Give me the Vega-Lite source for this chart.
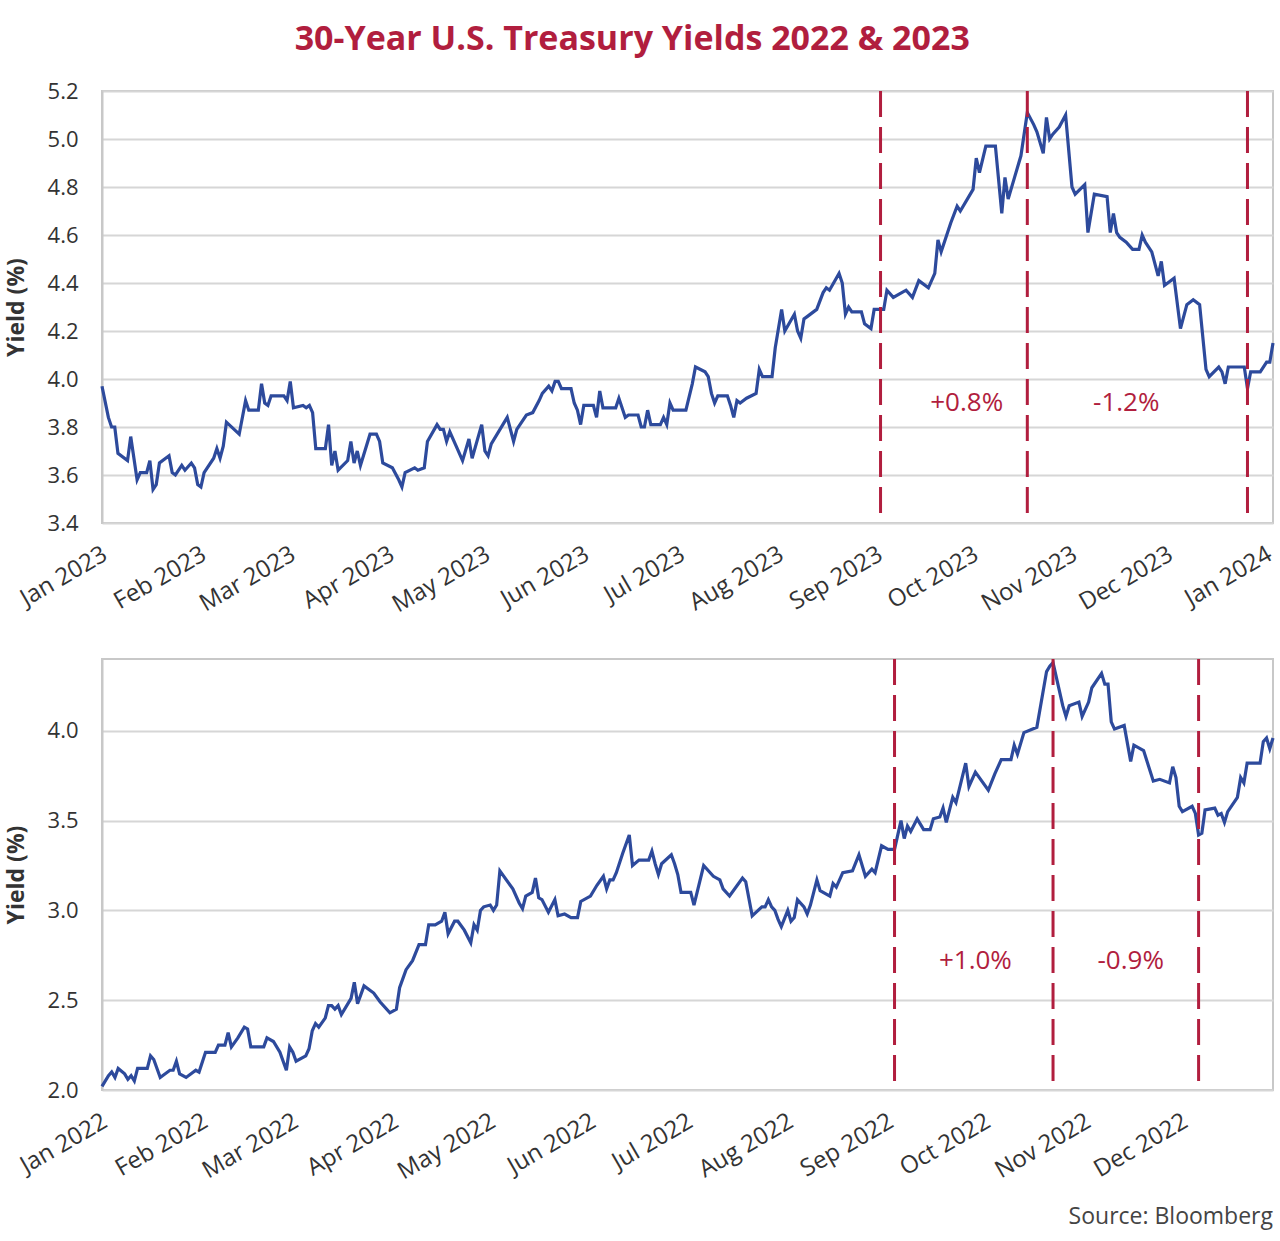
{
  "$schema": "https://vega.github.io/schema/vega-lite/v6.json",
  "padding": {"top": 23, "left": 4, "right": 3, "bottom": 10},
  "background": "white",
  "title": {
    "text": "30-Year U.S. Treasury Yields 2022 & 2023",
    "font": "Open Sans", "fontSize": 34, "fontWeight": "bold", "color": "#B11E3E",
    "anchor": "middle", "frame": "bounds", "offset": 22, "dx": -10
  },
  "config": {
    "font": "Open Sans",
    "view": {"stroke": "#c8c8c8", "strokeWidth": 2},
    "axisY": {
      "grid": true, "gridColor": "#d6d6d6", "gridWidth": 2,
      "domain": true, "domainColor": "#c8c8c8", "domainWidth": 2,
      "ticks": false, "labelFontSize": 22, "labelColor": "#333333", "labelPadding": 24,
      "labelFont": "Open Sans",
      "titleFont": "Open Sans", "titleFontSize": 23, "titleFontWeight": "bold", "titleColor": "#333333",
      "titlePadding": 19, "format": ".1f"
    },
    "axisX": {
      "grid": false, "domain": false, "ticks": false,
      "labelFontSize": 24, "labelColor": "#333333", "labelFont": "Open Sans",
      "labelAngle": -30, "labelAlign": "right", "labelBaseline": "top", "labelPadding": 19, "labelOffset": -3,
      "format": "%b %Y", "labelOverlap": false, "labelFlush": false, "labelBound": false
    }
  },
  "datasets": {
    "y2023": [
      {"date": "2023-01-01", "yield": 3.97}, {"date": "2023-01-03", "yield": 3.84}, {"date": "2023-01-04", "yield": 3.80},
      {"date": "2023-01-05", "yield": 3.80}, {"date": "2023-01-06", "yield": 3.69}, {"date": "2023-01-09", "yield": 3.66},
      {"date": "2023-01-10", "yield": 3.76}, {"date": "2023-01-12", "yield": 3.58}, {"date": "2023-01-13", "yield": 3.61},
      {"date": "2023-01-15", "yield": 3.61}, {"date": "2023-01-16", "yield": 3.66}, {"date": "2023-01-17", "yield": 3.54},
      {"date": "2023-01-18", "yield": 3.56}, {"date": "2023-01-19", "yield": 3.65}, {"date": "2023-01-22", "yield": 3.68},
      {"date": "2023-01-23", "yield": 3.61}, {"date": "2023-01-24", "yield": 3.60}, {"date": "2023-01-26", "yield": 3.64},
      {"date": "2023-01-27", "yield": 3.62}, {"date": "2023-01-29", "yield": 3.65}, {"date": "2023-01-30", "yield": 3.63},
      {"date": "2023-01-31", "yield": 3.56}, {"date": "2023-02-01", "yield": 3.55}, {"date": "2023-02-02", "yield": 3.61},
      {"date": "2023-02-05", "yield": 3.67}, {"date": "2023-02-06", "yield": 3.71}, {"date": "2023-02-07", "yield": 3.67},
      {"date": "2023-02-08", "yield": 3.72}, {"date": "2023-02-09", "yield": 3.82}, {"date": "2023-02-13", "yield": 3.77},
      {"date": "2023-02-15", "yield": 3.91}, {"date": "2023-02-16", "yield": 3.87}, {"date": "2023-02-19", "yield": 3.87},
      {"date": "2023-02-20", "yield": 3.98}, {"date": "2023-02-21", "yield": 3.90}, {"date": "2023-02-22", "yield": 3.89},
      {"date": "2023-02-23", "yield": 3.93}, {"date": "2023-02-27", "yield": 3.93}, {"date": "2023-02-28", "yield": 3.91},
      {"date": "2023-03-01", "yield": 3.99}, {"date": "2023-03-02", "yield": 3.88}, {"date": "2023-03-05", "yield": 3.89},
      {"date": "2023-03-06", "yield": 3.88}, {"date": "2023-03-07", "yield": 3.89}, {"date": "2023-03-08", "yield": 3.86},
      {"date": "2023-03-09", "yield": 3.71}, {"date": "2023-03-12", "yield": 3.71}, {"date": "2023-03-13", "yield": 3.81},
      {"date": "2023-03-14", "yield": 3.64}, {"date": "2023-03-15", "yield": 3.70}, {"date": "2023-03-16", "yield": 3.62},
      {"date": "2023-03-19", "yield": 3.66}, {"date": "2023-03-20", "yield": 3.74}, {"date": "2023-03-21", "yield": 3.65},
      {"date": "2023-03-22", "yield": 3.70}, {"date": "2023-03-23", "yield": 3.64}, {"date": "2023-03-26", "yield": 3.77},
      {"date": "2023-03-28", "yield": 3.77}, {"date": "2023-03-29", "yield": 3.74}, {"date": "2023-03-30", "yield": 3.65},
      {"date": "2023-04-02", "yield": 3.63}, {"date": "2023-04-04", "yield": 3.58}, {"date": "2023-04-05", "yield": 3.55},
      {"date": "2023-04-06", "yield": 3.61}, {"date": "2023-04-09", "yield": 3.63}, {"date": "2023-04-10", "yield": 3.62},
      {"date": "2023-04-12", "yield": 3.63}, {"date": "2023-04-13", "yield": 3.74}, {"date": "2023-04-16", "yield": 3.81},
      {"date": "2023-04-17", "yield": 3.79}, {"date": "2023-04-18", "yield": 3.79}, {"date": "2023-04-19", "yield": 3.74},
      {"date": "2023-04-20", "yield": 3.78}, {"date": "2023-04-22", "yield": 3.72}, {"date": "2023-04-24", "yield": 3.66},
      {"date": "2023-04-26", "yield": 3.75}, {"date": "2023-04-27", "yield": 3.67}, {"date": "2023-04-30", "yield": 3.81},
      {"date": "2023-05-01", "yield": 3.70}, {"date": "2023-05-02", "yield": 3.68}, {"date": "2023-05-03", "yield": 3.73},
      {"date": "2023-05-08", "yield": 3.84}, {"date": "2023-05-10", "yield": 3.74}, {"date": "2023-05-11", "yield": 3.79},
      {"date": "2023-05-14", "yield": 3.85}, {"date": "2023-05-16", "yield": 3.86}, {"date": "2023-05-18", "yield": 3.91},
      {"date": "2023-05-19", "yield": 3.94}, {"date": "2023-05-21", "yield": 3.97}, {"date": "2023-05-22", "yield": 3.95},
      {"date": "2023-05-23", "yield": 3.99}, {"date": "2023-05-24", "yield": 3.99}, {"date": "2023-05-25", "yield": 3.96},
      {"date": "2023-05-28", "yield": 3.96}, {"date": "2023-05-29", "yield": 3.90}, {"date": "2023-05-30", "yield": 3.87},
      {"date": "2023-05-31", "yield": 3.81}, {"date": "2023-06-01", "yield": 3.89}, {"date": "2023-06-04", "yield": 3.89},
      {"date": "2023-06-05", "yield": 3.84}, {"date": "2023-06-06", "yield": 3.95}, {"date": "2023-06-07", "yield": 3.88},
      {"date": "2023-06-09", "yield": 3.88}, {"date": "2023-06-11", "yield": 3.88}, {"date": "2023-06-12", "yield": 3.92},
      {"date": "2023-06-14", "yield": 3.84}, {"date": "2023-06-15", "yield": 3.85}, {"date": "2023-06-18", "yield": 3.85},
      {"date": "2023-06-19", "yield": 3.80}, {"date": "2023-06-20", "yield": 3.80}, {"date": "2023-06-21", "yield": 3.87},
      {"date": "2023-06-22", "yield": 3.81}, {"date": "2023-06-25", "yield": 3.81}, {"date": "2023-06-26", "yield": 3.84},
      {"date": "2023-06-27", "yield": 3.81}, {"date": "2023-06-28", "yield": 3.90}, {"date": "2023-06-29", "yield": 3.87},
      {"date": "2023-07-03", "yield": 3.87}, {"date": "2023-07-05", "yield": 3.98}, {"date": "2023-07-06", "yield": 4.05},
      {"date": "2023-07-09", "yield": 4.03}, {"date": "2023-07-10", "yield": 4.01}, {"date": "2023-07-11", "yield": 3.94},
      {"date": "2023-07-12", "yield": 3.90}, {"date": "2023-07-13", "yield": 3.93}, {"date": "2023-07-16", "yield": 3.93},
      {"date": "2023-07-17", "yield": 3.89}, {"date": "2023-07-18", "yield": 3.84}, {"date": "2023-07-19", "yield": 3.91},
      {"date": "2023-07-20", "yield": 3.90}, {"date": "2023-07-22", "yield": 3.92}, {"date": "2023-07-25", "yield": 3.94},
      {"date": "2023-07-26", "yield": 4.04}, {"date": "2023-07-27", "yield": 4.01}, {"date": "2023-07-30", "yield": 4.01},
      {"date": "2023-07-31", "yield": 4.13}, {"date": "2023-08-02", "yield": 4.29}, {"date": "2023-08-03", "yield": 4.20},
      {"date": "2023-08-06", "yield": 4.27}, {"date": "2023-08-07", "yield": 4.20}, {"date": "2023-08-08", "yield": 4.17},
      {"date": "2023-08-09", "yield": 4.25}, {"date": "2023-08-10", "yield": 4.26}, {"date": "2023-08-13", "yield": 4.29},
      {"date": "2023-08-15", "yield": 4.36}, {"date": "2023-08-16", "yield": 4.38}, {"date": "2023-08-17", "yield": 4.37},
      {"date": "2023-08-20", "yield": 4.44}, {"date": "2023-08-21", "yield": 4.40}, {"date": "2023-08-22", "yield": 4.27},
      {"date": "2023-08-23", "yield": 4.30}, {"date": "2023-08-24", "yield": 4.28}, {"date": "2023-08-27", "yield": 4.28},
      {"date": "2023-08-28", "yield": 4.23}, {"date": "2023-08-30", "yield": 4.21}, {"date": "2023-08-31", "yield": 4.29},
      {"date": "2023-09-03", "yield": 4.29}, {"date": "2023-09-04", "yield": 4.37}, {"date": "2023-09-06", "yield": 4.34},
      {"date": "2023-09-10", "yield": 4.37}, {"date": "2023-09-12", "yield": 4.34}, {"date": "2023-09-14", "yield": 4.41},
      {"date": "2023-09-17", "yield": 4.38}, {"date": "2023-09-19", "yield": 4.44}, {"date": "2023-09-20", "yield": 4.58},
      {"date": "2023-09-21", "yield": 4.53}, {"date": "2023-09-24", "yield": 4.65}, {"date": "2023-09-26", "yield": 4.72},
      {"date": "2023-09-27", "yield": 4.70}, {"date": "2023-10-01", "yield": 4.79}, {"date": "2023-10-02", "yield": 4.92},
      {"date": "2023-10-03", "yield": 4.86}, {"date": "2023-10-05", "yield": 4.97}, {"date": "2023-10-08", "yield": 4.97},
      {"date": "2023-10-10", "yield": 4.69}, {"date": "2023-10-11", "yield": 4.84}, {"date": "2023-10-12", "yield": 4.75},
      {"date": "2023-10-14", "yield": 4.84}, {"date": "2023-10-16", "yield": 4.93}, {"date": "2023-10-18", "yield": 5.11},
      {"date": "2023-10-20", "yield": 5.06}, {"date": "2023-10-21", "yield": 5.03}, {"date": "2023-10-23", "yield": 4.94},
      {"date": "2023-10-24", "yield": 5.09}, {"date": "2023-10-25", "yield": 5.00}, {"date": "2023-10-26", "yield": 5.02},
      {"date": "2023-10-28", "yield": 5.05}, {"date": "2023-10-30", "yield": 5.10}, {"date": "2023-11-01", "yield": 4.80},
      {"date": "2023-11-02", "yield": 4.77}, {"date": "2023-11-05", "yield": 4.81}, {"date": "2023-11-06", "yield": 4.61},
      {"date": "2023-11-08", "yield": 4.77}, {"date": "2023-11-12", "yield": 4.76}, {"date": "2023-11-13", "yield": 4.61},
      {"date": "2023-11-14", "yield": 4.69}, {"date": "2023-11-15", "yield": 4.61}, {"date": "2023-11-16", "yield": 4.59},
      {"date": "2023-11-18", "yield": 4.57}, {"date": "2023-11-20", "yield": 4.54}, {"date": "2023-11-22", "yield": 4.54},
      {"date": "2023-11-23", "yield": 4.60}, {"date": "2023-11-24", "yield": 4.57}, {"date": "2023-11-26", "yield": 4.53},
      {"date": "2023-11-28", "yield": 4.43}, {"date": "2023-11-29", "yield": 4.49}, {"date": "2023-11-30", "yield": 4.39},
      {"date": "2023-12-01", "yield": 4.40}, {"date": "2023-12-03", "yield": 4.42}, {"date": "2023-12-05", "yield": 4.21},
      {"date": "2023-12-07", "yield": 4.31}, {"date": "2023-12-09", "yield": 4.33}, {"date": "2023-12-11", "yield": 4.31},
      {"date": "2023-12-13", "yield": 4.04}, {"date": "2023-12-14", "yield": 4.01}, {"date": "2023-12-17", "yield": 4.05},
      {"date": "2023-12-18", "yield": 4.03}, {"date": "2023-12-19", "yield": 3.98}, {"date": "2023-12-20", "yield": 4.05},
      {"date": "2023-12-24", "yield": 4.05}, {"date": "2023-12-25", "yield": 4.05}, {"date": "2023-12-26", "yield": 3.96},
      {"date": "2023-12-27", "yield": 4.03}, {"date": "2023-12-30", "yield": 4.03}, {"date": "2024-01-01", "yield": 4.07},
      {"date": "2024-01-02", "yield": 4.07}, {"date": "2024-01-03", "yield": 4.15}
    ],
    "y2022": [
      {"date": "2022-01-01", "yield": 2.02}, {"date": "2022-01-03", "yield": 2.08}, {"date": "2022-01-04", "yield": 2.10},
      {"date": "2022-01-05", "yield": 2.07}, {"date": "2022-01-06", "yield": 2.12}, {"date": "2022-01-08", "yield": 2.09},
      {"date": "2022-01-09", "yield": 2.06}, {"date": "2022-01-10", "yield": 2.08}, {"date": "2022-01-11", "yield": 2.05},
      {"date": "2022-01-12", "yield": 2.12}, {"date": "2022-01-15", "yield": 2.12}, {"date": "2022-01-16", "yield": 2.19},
      {"date": "2022-01-17", "yield": 2.17}, {"date": "2022-01-19", "yield": 2.07}, {"date": "2022-01-22", "yield": 2.11},
      {"date": "2022-01-23", "yield": 2.11}, {"date": "2022-01-24", "yield": 2.16}, {"date": "2022-01-25", "yield": 2.09},
      {"date": "2022-01-27", "yield": 2.07}, {"date": "2022-01-30", "yield": 2.11}, {"date": "2022-01-31", "yield": 2.10},
      {"date": "2022-02-02", "yield": 2.21}, {"date": "2022-02-05", "yield": 2.21}, {"date": "2022-02-06", "yield": 2.25},
      {"date": "2022-02-08", "yield": 2.25}, {"date": "2022-02-09", "yield": 2.32}, {"date": "2022-02-10", "yield": 2.24},
      {"date": "2022-02-12", "yield": 2.29}, {"date": "2022-02-14", "yield": 2.35}, {"date": "2022-02-15", "yield": 2.34},
      {"date": "2022-02-16", "yield": 2.24}, {"date": "2022-02-20", "yield": 2.24}, {"date": "2022-02-21", "yield": 2.29},
      {"date": "2022-02-23", "yield": 2.27}, {"date": "2022-02-25", "yield": 2.21}, {"date": "2022-02-26", "yield": 2.16},
      {"date": "2022-02-27", "yield": 2.11}, {"date": "2022-02-28", "yield": 2.24}, {"date": "2022-03-01", "yield": 2.21},
      {"date": "2022-03-02", "yield": 2.16}, {"date": "2022-03-05", "yield": 2.19}, {"date": "2022-03-06", "yield": 2.23},
      {"date": "2022-03-07", "yield": 2.33}, {"date": "2022-03-08", "yield": 2.37}, {"date": "2022-03-09", "yield": 2.35},
      {"date": "2022-03-11", "yield": 2.40}, {"date": "2022-03-12", "yield": 2.47}, {"date": "2022-03-13", "yield": 2.47},
      {"date": "2022-03-14", "yield": 2.45}, {"date": "2022-03-15", "yield": 2.47}, {"date": "2022-03-16", "yield": 2.42},
      {"date": "2022-03-19", "yield": 2.51}, {"date": "2022-03-20", "yield": 2.60}, {"date": "2022-03-21", "yield": 2.48},
      {"date": "2022-03-23", "yield": 2.58}, {"date": "2022-03-26", "yield": 2.54}, {"date": "2022-03-28", "yield": 2.49},
      {"date": "2022-03-31", "yield": 2.43}, {"date": "2022-04-02", "yield": 2.45}, {"date": "2022-04-03", "yield": 2.57},
      {"date": "2022-04-05", "yield": 2.67}, {"date": "2022-04-07", "yield": 2.72}, {"date": "2022-04-09", "yield": 2.81},
      {"date": "2022-04-11", "yield": 2.81}, {"date": "2022-04-12", "yield": 2.92}, {"date": "2022-04-14", "yield": 2.92},
      {"date": "2022-04-16", "yield": 2.94}, {"date": "2022-04-17", "yield": 2.99}, {"date": "2022-04-18", "yield": 2.87},
      {"date": "2022-04-20", "yield": 2.94}, {"date": "2022-04-21", "yield": 2.94}, {"date": "2022-04-23", "yield": 2.89},
      {"date": "2022-04-25", "yield": 2.82}, {"date": "2022-04-26", "yield": 2.92}, {"date": "2022-04-27", "yield": 2.89},
      {"date": "2022-04-28", "yield": 3.00}, {"date": "2022-04-29", "yield": 3.02}, {"date": "2022-05-01", "yield": 3.03},
      {"date": "2022-05-02", "yield": 3.00}, {"date": "2022-05-03", "yield": 3.03}, {"date": "2022-05-04", "yield": 3.22},
      {"date": "2022-05-08", "yield": 3.12}, {"date": "2022-05-10", "yield": 3.04}, {"date": "2022-05-11", "yield": 3.01},
      {"date": "2022-05-12", "yield": 3.08}, {"date": "2022-05-14", "yield": 3.10}, {"date": "2022-05-15", "yield": 3.18},
      {"date": "2022-05-16", "yield": 3.07}, {"date": "2022-05-17", "yield": 3.06}, {"date": "2022-05-19", "yield": 2.99},
      {"date": "2022-05-21", "yield": 3.06}, {"date": "2022-05-22", "yield": 2.97}, {"date": "2022-05-24", "yield": 2.98},
      {"date": "2022-05-26", "yield": 2.96}, {"date": "2022-05-28", "yield": 2.96}, {"date": "2022-05-29", "yield": 3.05},
      {"date": "2022-06-01", "yield": 3.08}, {"date": "2022-06-03", "yield": 3.14}, {"date": "2022-06-05", "yield": 3.19},
      {"date": "2022-06-06", "yield": 3.12}, {"date": "2022-06-07", "yield": 3.17}, {"date": "2022-06-08", "yield": 3.17},
      {"date": "2022-06-09", "yield": 3.21}, {"date": "2022-06-11", "yield": 3.32}, {"date": "2022-06-13", "yield": 3.42},
      {"date": "2022-06-14", "yield": 3.25}, {"date": "2022-06-16", "yield": 3.28}, {"date": "2022-06-19", "yield": 3.28},
      {"date": "2022-06-20", "yield": 3.33}, {"date": "2022-06-21", "yield": 3.26}, {"date": "2022-06-22", "yield": 3.20},
      {"date": "2022-06-23", "yield": 3.26}, {"date": "2022-06-26", "yield": 3.31}, {"date": "2022-06-27", "yield": 3.26},
      {"date": "2022-06-28", "yield": 3.20}, {"date": "2022-06-29", "yield": 3.10}, {"date": "2022-07-02", "yield": 3.10},
      {"date": "2022-07-03", "yield": 3.03}, {"date": "2022-07-06", "yield": 3.25}, {"date": "2022-07-09", "yield": 3.19},
      {"date": "2022-07-11", "yield": 3.17}, {"date": "2022-07-12", "yield": 3.12}, {"date": "2022-07-14", "yield": 3.08},
      {"date": "2022-07-18", "yield": 3.18}, {"date": "2022-07-19", "yield": 3.16}, {"date": "2022-07-21", "yield": 2.97},
      {"date": "2022-07-24", "yield": 3.02}, {"date": "2022-07-25", "yield": 3.02}, {"date": "2022-07-26", "yield": 3.06},
      {"date": "2022-07-27", "yield": 3.02}, {"date": "2022-07-28", "yield": 3.00}, {"date": "2022-07-29", "yield": 2.95},
      {"date": "2022-07-30", "yield": 2.91}, {"date": "2022-08-01", "yield": 3.00}, {"date": "2022-08-02", "yield": 2.94},
      {"date": "2022-08-03", "yield": 2.96}, {"date": "2022-08-04", "yield": 3.06}, {"date": "2022-08-06", "yield": 3.02},
      {"date": "2022-08-07", "yield": 2.98}, {"date": "2022-08-08", "yield": 3.03}, {"date": "2022-08-10", "yield": 3.17},
      {"date": "2022-08-11", "yield": 3.11}, {"date": "2022-08-14", "yield": 3.08}, {"date": "2022-08-15", "yield": 3.15},
      {"date": "2022-08-16", "yield": 3.13}, {"date": "2022-08-18", "yield": 3.21}, {"date": "2022-08-21", "yield": 3.22},
      {"date": "2022-08-23", "yield": 3.31}, {"date": "2022-08-25", "yield": 3.19}, {"date": "2022-08-27", "yield": 3.23},
      {"date": "2022-08-28", "yield": 3.21}, {"date": "2022-08-30", "yield": 3.36}, {"date": "2022-09-01", "yield": 3.34},
      {"date": "2022-09-03", "yield": 3.34}, {"date": "2022-09-05", "yield": 3.50}, {"date": "2022-09-06", "yield": 3.40},
      {"date": "2022-09-07", "yield": 3.47}, {"date": "2022-09-08", "yield": 3.44}, {"date": "2022-09-10", "yield": 3.51},
      {"date": "2022-09-12", "yield": 3.45}, {"date": "2022-09-14", "yield": 3.45}, {"date": "2022-09-15", "yield": 3.51},
      {"date": "2022-09-17", "yield": 3.52}, {"date": "2022-09-18", "yield": 3.57}, {"date": "2022-09-19", "yield": 3.49},
      {"date": "2022-09-21", "yield": 3.63}, {"date": "2022-09-22", "yield": 3.60}, {"date": "2022-09-25", "yield": 3.82},
      {"date": "2022-09-26", "yield": 3.69}, {"date": "2022-09-28", "yield": 3.77}, {"date": "2022-10-02", "yield": 3.67},
      {"date": "2022-10-04", "yield": 3.76}, {"date": "2022-10-06", "yield": 3.84}, {"date": "2022-10-09", "yield": 3.84},
      {"date": "2022-10-10", "yield": 3.92}, {"date": "2022-10-11", "yield": 3.87}, {"date": "2022-10-13", "yield": 3.99},
      {"date": "2022-10-17", "yield": 4.02}, {"date": "2022-10-20", "yield": 4.33}, {"date": "2022-10-21", "yield": 4.36},
      {"date": "2022-10-22", "yield": 4.38}, {"date": "2022-10-25", "yield": 4.14}, {"date": "2022-10-26", "yield": 4.08},
      {"date": "2022-10-27", "yield": 4.14}, {"date": "2022-10-30", "yield": 4.16}, {"date": "2022-10-31", "yield": 4.08},
      {"date": "2022-11-02", "yield": 4.16}, {"date": "2022-11-03", "yield": 4.24}, {"date": "2022-11-06", "yield": 4.32},
      {"date": "2022-11-07", "yield": 4.26}, {"date": "2022-11-08", "yield": 4.26}, {"date": "2022-11-09", "yield": 4.05},
      {"date": "2022-11-10", "yield": 4.01}, {"date": "2022-11-13", "yield": 4.03}, {"date": "2022-11-15", "yield": 3.83},
      {"date": "2022-11-16", "yield": 3.92}, {"date": "2022-11-19", "yield": 3.89}, {"date": "2022-11-22", "yield": 3.72},
      {"date": "2022-11-24", "yield": 3.73}, {"date": "2022-11-27", "yield": 3.71}, {"date": "2022-11-28", "yield": 3.80},
      {"date": "2022-11-29", "yield": 3.74}, {"date": "2022-11-30", "yield": 3.58}, {"date": "2022-12-01", "yield": 3.55},
      {"date": "2022-12-04", "yield": 3.58}, {"date": "2022-12-05", "yield": 3.54}, {"date": "2022-12-06", "yield": 3.42},
      {"date": "2022-12-07", "yield": 3.43}, {"date": "2022-12-08", "yield": 3.56}, {"date": "2022-12-11", "yield": 3.57},
      {"date": "2022-12-12", "yield": 3.53}, {"date": "2022-12-13", "yield": 3.54}, {"date": "2022-12-14", "yield": 3.49},
      {"date": "2022-12-15", "yield": 3.55}, {"date": "2022-12-18", "yield": 3.63}, {"date": "2022-12-19", "yield": 3.74},
      {"date": "2022-12-20", "yield": 3.71}, {"date": "2022-12-21", "yield": 3.82}, {"date": "2022-12-25", "yield": 3.82},
      {"date": "2022-12-26", "yield": 3.94}, {"date": "2022-12-27", "yield": 3.96}, {"date": "2022-12-28", "yield": 3.90},
      {"date": "2022-12-29", "yield": 3.96}
    ],
    "marks2023": [{"date": "2023-09-02"}, {"date": "2023-10-18"}, {"date": "2023-12-26"}],
    "marks2022": [{"date": "2022-09-03"}, {"date": "2022-10-22"}, {"date": "2022-12-06"}],
    "notes2023": [
      {"date": "2023-09-29", "yield": 3.90, "label": "+0.8%"},
      {"date": "2023-11-18", "yield": 3.90, "label": "-1.2%"}
    ],
    "notes2022": [
      {"date": "2022-09-28", "yield": 2.72, "label": "+1.0%"},
      {"date": "2022-11-15", "yield": 2.72, "label": "-0.9%"}
    ]
  },
  "bounds": "flush",
  "spacing": 136,
  "resolve": {"scale": {"x": "independent", "y": "independent"}},
  "vconcat": [
    {
      "width": 1171,
      "height": 432,
      "encoding": {
        "x": {
          "field": "date", "type": "temporal", "title": null,
          "scale": {"type": "utc", "domain": [{"year": 2023, "month": 1, "date": 1, "utc": true}, {"year": 2024, "month": 1, "date": 3, "utc": true}]},
          "axis": {"tickCount": {"interval": "month", "step": 1}}
        }
      },
      "layer": [
        {
          "data": {"name": "y2023"},
          "mark": {"type": "line", "color": "#2D4A9C", "strokeWidth": 3.2},
          "encoding": {
            "y": {
              "field": "yield", "type": "quantitative", "title": "Yield (%)",
              "scale": {"domain": [3.4, 5.2], "nice": false, "zero": false},
              "axis": {"values": [3.4, 3.6, 3.8, 4.0, 4.2, 4.4, 4.6, 4.8, 5.0, 5.2]}
            }
          }
        },
        {
          "data": {"name": "marks2023"},
          "mark": {"type": "rule", "color": "#B11E3E", "strokeWidth": 3, "strokeDash": [26, 10]},
          "encoding": {}
        },
        {
          "data": {"name": "notes2023"},
          "mark": {"type": "text", "color": "#B11E3E", "fontSize": 26, "font": "Open Sans", "align": "center", "baseline": "middle"},
          "encoding": {
            "y": {"field": "yield", "type": "quantitative"},
            "text": {"field": "label", "type": "nominal"}
          }
        }
      ]
    },
    {
      "width": 1171,
      "height": 431,
      "title": {"text": "Source: Bloomberg", "orient": "bottom", "anchor": "end", "frame": "group", "fontSize": 23, "fontWeight": "normal", "color": "#444444", "font": "Open Sans", "offset": 22},
      "encoding": {
        "x": {
          "field": "date", "type": "temporal", "title": null,
          "scale": {"type": "utc", "domain": [{"year": 2022, "month": 1, "date": 1, "utc": true}, {"year": 2022, "month": 12, "date": 29, "utc": true}]},
          "axis": {"tickCount": {"interval": "month", "step": 1}}
        }
      },
      "layer": [
        {
          "data": {"name": "y2022"},
          "mark": {"type": "line", "color": "#2D4A9C", "strokeWidth": 3.2},
          "encoding": {
            "y": {
              "field": "yield", "type": "quantitative", "title": "Yield (%)",
              "scale": {"domain": [2.0, 4.4], "nice": false, "zero": false},
              "axis": {"values": [2.0, 2.5, 3.0, 3.5, 4.0]}
            }
          }
        },
        {
          "data": {"name": "marks2022"},
          "mark": {"type": "rule", "color": "#B11E3E", "strokeWidth": 3, "strokeDash": [26, 10]},
          "encoding": {}
        },
        {
          "data": {"name": "notes2022"},
          "mark": {"type": "text", "color": "#B11E3E", "fontSize": 26, "font": "Open Sans", "align": "center", "baseline": "middle"},
          "encoding": {
            "y": {"field": "yield", "type": "quantitative"},
            "text": {"field": "label", "type": "nominal"}
          }
        }
      ]
    }
  ]
}
